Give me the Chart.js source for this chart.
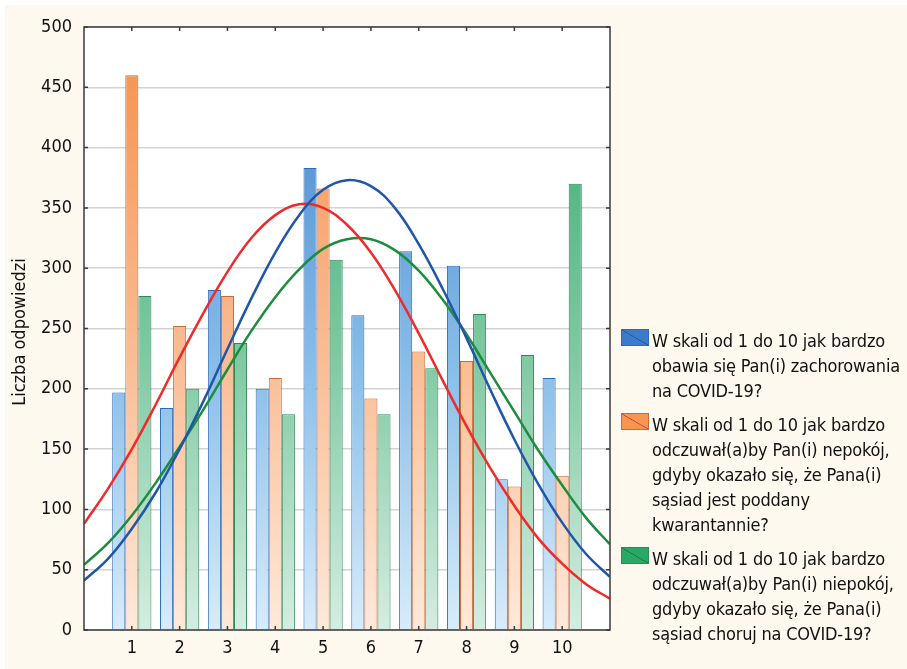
<!DOCTYPE html>
<html>
<head>
<meta charset="utf-8">
<script src="https://cdn.jsdelivr.net/npm/chart.js@4.4.0/dist/chart.umd.min.js"></script>
<style>
  body { margin: 0; background: #fff; }
  #wrap { position: relative; width: 907px; height: 669px; }
  #cream { position: absolute; left: 5px; top: 5px; right: 0; bottom: 0; background: #fdf9ee; }
  #myChart { position: absolute; left: 0; top: 0; }
  .legend { position: absolute; left: 621px; top: 328px; width: 286px;
    font-family: 'Liberation Sans Narrow', 'Arial Narrow', 'DejaVu Sans Condensed', sans-serif;
    font-size: 18px; color: #111; line-height: 25px; letter-spacing: -0.2px; }
  .item { position: relative; padding-left: 31px; margin-bottom: 9px; }
  .sw { position: absolute; left: 0; top: 1px; width: 28px; height: 17px; box-sizing: border-box; }
</style>
</head>
<body>
<div id="wrap">
  <div id="cream"></div>
  <canvas id="myChart" width="907" height="669"></canvas>
  <div class="legend" id="legend"></div>
</div>
<script>
var categories = [1, 2, 3, 4, 5, 6, 7, 8, 9, 10];
var fearIll = [197, 184, 282, 200, 383, 261, 314, 302, 125, 209];
var worryQuarantine = [460, 252, 277, 209, 366, 192, 231, 223, 119, 128];
var worryNeighbourIll = [277, 200, 238, 179, 307, 179, 217, 262, 228, 370];

// fitted curves at half steps
var curveX = [0, 0.5, 1, 1.5, 2, 2.5, 3, 3.5, 4, 4.5, 5, 5.5, 6, 6.5, 7, 7.5, 8, 8.5, 9, 9.5, 10, 10.5, 11];
var fearIllCurve = [41, 59, 84, 114, 150, 190, 233, 275, 313, 344, 365, 373, 368, 350, 320, 283, 242, 199, 158, 121, 89, 63, 44];
var worryQuarantineCurve = [88, 117, 150, 187, 226, 263, 297, 325, 344, 353, 350, 336, 313, 282, 246, 207, 169, 134, 103, 76, 55, 38, 26];
var worryNeighbourIllCurve = [54, 72, 95, 122, 152, 183, 216, 248, 276, 299, 316, 324, 324, 315, 298, 274, 245, 213, 181, 149, 120, 93, 71];

var yTicks = [0, 50, 100, 150, 200, 250, 300, 350, 400, 450, 500];

var legendLabels = [
  ['W skali od 1 do 10 jak bardzo', 'obawia się Pan(i) zachorowania', 'na COVID-19?'],
  ['W skali od 1 do 10 jak bardzo', 'odczuwał(a)by Pan(i) nepokój,', 'gdyby okazało się, że Pana(i)', 'sąsiad jest poddany', 'kwarantannie?'],
  ['W skali od 1 do 10 jak bardzo', 'odczuwał(a)by Pan(i) niepokój,', 'gdyby okazało się, że Pana(i)', 'sąsiad choruj na COVID-19?']
];

var narrow = "'Liberation Sans Narrow', 'Arial Narrow', 'DejaVu Sans Condensed', sans-serif";

function toPoints(xs, ys) {
  var out = [];
  for (var i = 0; i < xs.length; i++) out.push({ x: xs[i], y: ys[i] });
  return out;
}

function barFill(top, mid, bottom) {
  return function(context) {
    var chart = context.chart;
    var area = chart.chartArea;
    if (!area) return top;
    var g = chart.ctx.createLinearGradient(0, area.bottom, 0, area.top);
    g.addColorStop(0, bottom);
    g.addColorStop(0.45, mid);
    g.addColorStop(1, top);
    return g;
  };
}

var framePlugin = {
  id: 'frame',
  beforeDraw: function(chart) {
    var a = chart.chartArea, ctx = chart.ctx;
    ctx.save();
    ctx.fillStyle = '#ffffff';
    ctx.fillRect(a.left, a.top, a.right - a.left, a.bottom - a.top);
    ctx.restore();
  },
  afterDraw: function(chart) {
    var a = chart.chartArea, ctx = chart.ctx;
    var xs = chart.scales.x, ys = chart.scales.y;
    ctx.save();
    ctx.strokeStyle = '#3a3a3a';
    ctx.lineWidth = 1.5;
    ctx.strokeRect(a.left, a.top, a.right - a.left, a.bottom - a.top);
    ctx.beginPath();
    for (var i = 0; i < categories.length; i++) {
      var px = xs.getPixelForValue(categories[i]);
      ctx.moveTo(px, a.bottom); ctx.lineTo(px, a.bottom - 4);
      ctx.moveTo(px, a.top); ctx.lineTo(px, a.top + 4);
    }
    for (var j = 0; j < yTicks.length; j++) {
      var py = ys.getPixelForValue(yTicks[j]);
      ctx.moveTo(a.left, py); ctx.lineTo(a.left + 4, py);
      ctx.moveTo(a.right, py); ctx.lineTo(a.right - 4, py);
    }
    ctx.stroke();
    // y title
    ctx.translate(20, 332);
    ctx.rotate(-Math.PI / 2);
    ctx.fillStyle = '#111';
    ctx.font = '18px ' + narrow;
    ctx.textAlign = 'center';
    ctx.textBaseline = 'middle';
    ctx.fillText('Liczba odpowiedzi', 0, 0);
    ctx.restore();
  }
};

var ctx = document.getElementById('myChart').getContext('2d');
var myChart = new Chart(ctx, {
  data: {
    datasets: [
      { type: 'line', data: toPoints(curveX, fearIllCurve), borderColor: '#2155a8', borderWidth: 2.5, pointRadius: 0, tension: 0.4, order: 0 },
      { type: 'line', data: toPoints(curveX, worryQuarantineCurve), borderColor: '#ee2b2b', borderWidth: 2.5, pointRadius: 0, tension: 0.4, order: 0 },
      { type: 'line', data: toPoints(curveX, worryNeighbourIllCurve), borderColor: '#1d8c3e', borderWidth: 2.5, pointRadius: 0, tension: 0.4, order: 0 },
      { type: 'bar', data: toPoints(categories, fearIll), backgroundColor: barFill('#3f80cc', '#86bce8', '#d8ecfa'), borderColor: '#2e6bb6', borderWidth: 1, order: 1 },
      { type: 'bar', data: toPoints(categories, worryQuarantine), backgroundColor: barFill('#f58f4c', '#f9bd94', '#fee9da'), borderColor: '#c96a3a', borderWidth: 1, order: 1 },
      { type: 'bar', data: toPoints(categories, worryNeighbourIll), backgroundColor: barFill('#2eaa69', '#80c9a2', '#d5ede1'), borderColor: '#2b8a57', borderWidth: 1, order: 1 }
    ]
  },
  options: {
    responsive: false,
    animation: false,
    devicePixelRatio: 1,
    layout: { padding: { left: 0, right: 297, top: 27, bottom: 0 } },
    datasets: { bar: { categoryPercentage: 0.82, barPercentage: 1.0 } },
    plugins: { legend: { display: false }, tooltip: { enabled: false } },
    scales: {
      x: {
        type: 'linear', min: 0, max: 11, offset: false,
        grid: { display: false, drawTicks: false, offset: false },
        border: { display: false },
        afterFit: function(s) { s.height = 39; },
        afterBuildTicks: function(s) { s.ticks = categories.map(function(c) { return { value: c }; }); },
        ticks: { color: '#111', font: { family: narrow, size: 18 }, padding: 8, autoSkip: false, maxRotation: 0 }
      },
      y: {
        min: 0, max: 500,
        grid: { color: '#d3d3d3', lineWidth: 1.5, drawTicks: false },
        border: { display: false },
        afterFit: function(s) { s.width = 84; },
        afterBuildTicks: function(s) { s.ticks = yTicks.map(function(v) { return { value: v }; }); },
        ticks: { color: '#111', font: { family: narrow, size: 18 }, padding: 12 }
      }
    }
  },
  plugins: [framePlugin]
});

var swColors = [['#3a7ccb', '#2e6bb6', '#1f4f90'], ['#f79552', '#c96a3a', '#e03030'], ['#2aa866', '#2b8a57', '#1b6e3b']];
var leg = document.getElementById('legend');
for (var i = 0; i < legendLabels.length; i++) {
  var item = document.createElement('div');
  item.className = 'item';
  var sw = document.createElement('span');
  sw.className = 'sw';
  sw.style.background = 'linear-gradient(to top right, ' + swColors[i][0] + ' calc(50% - 0.7px), ' + swColors[i][2] + ' 50%, ' + swColors[i][0] + ' calc(50% + 0.7px))';
  sw.style.border = '1px solid ' + swColors[i][1];
  item.appendChild(sw);
  var txt = document.createElement('div');
  txt.innerHTML = legendLabels[i].join('<br>');
  item.appendChild(txt);
  leg.appendChild(item);
}
</script>
</body>
</html>
